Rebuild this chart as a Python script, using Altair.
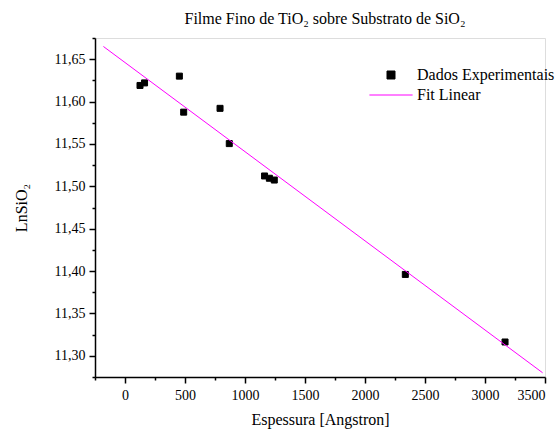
import altair as alt
import pandas as pd

# Espessura (Angstron) e LnSiO2 medidos
espessura = [125, 163, 453, 489, 792, 869, 1163, 1203, 1244, 2336, 3167]
ln_sio2 = [11.619, 11.622, 11.630, 11.5875, 11.592, 11.5504, 11.5122, 11.5095, 11.5074, 11.396, 11.3163]

# Extremos da reta do ajuste linear
fit_espessura = [-180, 3480]
fit_ln = [11.665, 11.280]

series = ["Dados Experimentais", "Fit Linear"]
colors = ["black", "#ff00ff"]
# quadrado cheio para os dados, traço horizontal para o ajuste
shapes = ["M-1,-1H1V1H-1Z", "M-5.4,0H5.4"]

x_ticks = list(range(-250, 3501, 250))
y_ticks = [round(11.275 + 0.025 * i, 3) for i in range(17)]

FONT = "Liberation Serif"

pts = pd.DataFrame({"x": espessura, "y": ln_sio2, "serie": series[0]})
fit = pd.DataFrame({"x": fit_espessura, "y": fit_ln})

x_enc = alt.X(
    "x:Q",
    title="Espessura [Angstron]",
    scale=alt.Scale(domain=[-250, 3500], nice=False, zero=False),
    axis=alt.Axis(
        values=x_ticks,
        format="d",
        labelExpr="datum.value % 500 === 0 ? datum.label : ''",
        tickSize={"condition": {"test": "datum.value % 500 === 0", "value": 6}, "value": 3},
        labelFont=FONT,
        labelFontSize=14,
        labelPadding=5,
        titleFont=FONT,
        titlePadding=9,
    ),
)
y_enc = alt.Y(
    "y:Q",
    title="LnSiO₂",
    scale=alt.Scale(domain=[11.275, 11.675], nice=False, zero=False),
    axis=alt.Axis(
        values=y_ticks,
        labelExpr="round(datum.value * 1000) % 50 === 0 ? replace(format(datum.value, '.2f'), '.', ',') : ''",
        tickSize={"condition": {"test": "round(datum.value * 1000) % 50 === 0", "value": 6}, "value": 3},
        labelFont=FONT,
        labelFontSize=14,
        labelPadding=4,
        titleFont=FONT,
        titlePadding=25,
    ),
)

legend = alt.Legend(
    title=None,
    orient="none",
    legendX=288,
    legendY=29,
    padding=0,
    labelFont=FONT,
    labelFontSize=16,
    labelColor="black",
    labelLimit=200,
    symbolSize=64,
    symbolStrokeWidth=1,
    symbolOpacity=1,
    labelOffset=18,
    rowPadding=4,
)

points = alt.Chart(pts).mark_point(filled=True, size=36, strokeWidth=1, opacity=1).encode(
    x=x_enc,
    y=y_enc,
    fill=alt.Fill("serie:N", scale=alt.Scale(domain=series, range=colors), legend=legend),
    stroke=alt.Stroke("serie:N", scale=alt.Scale(domain=series, range=colors), legend=legend),
    shape=alt.Shape("serie:N", scale=alt.Scale(domain=series, range=shapes), legend=legend),
)
line = alt.Chart(fit).mark_line(strokeWidth=1, color="#ff00ff").encode(x=x_enc, y=y_enc)

chart = (
    alt.layer(points, line)
    .properties(
        width=450,
        height=339,
        autosize=alt.AutoSizeParams(type="none"),
        padding={"left": 95, "top": 38, "right": 15, "bottom": 58},
        title=alt.Title(
            "Filme Fino de TiO₂ sobre Substrato de SiO₂",
            font=FONT,
            fontSize=16,
            fontWeight="normal",
            color="black",
            offset=10,
            dx=5,
        ),
    )
    .configure_view(stroke=None)
    .configure(background="white", font=FONT)
    .configure_axis(
        grid=False,
        domainColor="black",
        domainWidth=1.5,
        tickColor="black",
        tickWidth=1.5,
        labelFont=FONT,
        labelFontSize=14,
        labelColor="black",
        titleFont=FONT,
        titleFontSize=16,
        titleFontWeight="normal",
        titleColor="black",
    )
)

chart.save("out.html", embed_options={"renderer": "svg", "actions": False})
